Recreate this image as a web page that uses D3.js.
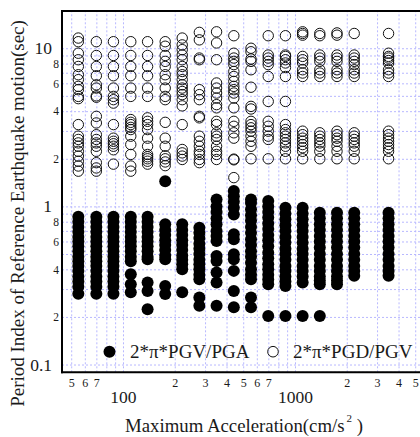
<!DOCTYPE html>
<html>
<head>
<meta charset="utf-8">
<script src="https://cdn.jsdelivr.net/npm/d3@7"></script>
<style>
  html, body { margin: 0; padding: 0; background: #fff; }
  svg { display: block; }
  .grid line { stroke: #b8b8ff; stroke-width: 1; stroke-dasharray: 2,2; }
  .grid path { display: none; }
  .lbl path, .lbl line { display: none; }
  text { font-family: "Liberation Serif", "Times New Roman", serif; fill: #1a1a1a; }
</style>
</head>
<body>
<svg id="chart" width="420" height="437"></svg>
<script>
// Maximum acceleration class of each column (cm/s^2)
const accel = [55, 70, 88, 111, 139, 176, 221, 278, 350, 441, 555, 699, 880, 1108, 1394, 1755, 2210, 3500];

// 2*pi*PGV/PGA (sec), one list per acceleration column
const pgvPga = [
  [0.86, 0.80, 0.74, 0.69, 0.64, 0.60, 0.56, 0.52, 0.48, 0.45, 0.42, 0.39, 0.36, 0.335, 0.31, 0.28],
  [0.86, 0.80, 0.74, 0.69, 0.64, 0.60, 0.56, 0.52, 0.48, 0.45, 0.42, 0.39, 0.36, 0.335, 0.31, 0.28],
  [0.86, 0.80, 0.74, 0.69, 0.64, 0.60, 0.56, 0.52, 0.48, 0.45, 0.42, 0.39, 0.36, 0.335, 0.31, 0.28],
  [0.86, 0.80, 0.74, 0.69, 0.64, 0.60, 0.56, 0.52, 0.48, 0.45, 0.372, 0.322, 0.286],
  [0.86, 0.80, 0.74, 0.69, 0.64, 0.60, 0.56, 0.52, 0.48, 0.463, 0.330, 0.292, 0.224],
  [1.44, 0.77, 0.71, 0.66, 0.61, 0.57, 0.53, 0.49, 0.463, 0.314, 0.279],
  [0.77, 0.71, 0.66, 0.61, 0.57, 0.53, 0.49, 0.46, 0.43, 0.40, 0.286],
  [0.734, 0.68, 0.63, 0.58, 0.54, 0.50, 0.46, 0.43, 0.40, 0.37, 0.346, 0.265, 0.235],
  [1.107, 1.0, 0.92, 0.84, 0.77, 0.70, 0.65, 0.604, 0.486, 0.452, 0.382, 0.330, 0.235],
  [1.25, 1.16, 1.07, 0.98, 0.89, 0.666, 0.619, 0.498, 0.463, 0.391, 0.292, 0.230],
  [1.107, 1.05, 0.96, 0.88, 0.81, 0.74, 0.68, 0.62, 0.57, 0.52, 0.48, 0.44, 0.40, 0.37, 0.346, 0.265, 0.230],
  [1.08, 1.0, 0.92, 0.85, 0.78, 0.72, 0.66, 0.61, 0.56, 0.51, 0.47, 0.43, 0.40, 0.37, 0.345, 0.322, 0.203],
  [0.98, 0.90, 0.83, 0.76, 0.70, 0.64, 0.59, 0.54, 0.50, 0.46, 0.42, 0.39, 0.36, 0.335, 0.314, 0.203],
  [0.98, 0.90, 0.83, 0.76, 0.70, 0.64, 0.59, 0.54, 0.50, 0.46, 0.42, 0.39, 0.36, 0.330, 0.203],
  [0.913, 0.84, 0.77, 0.71, 0.65, 0.60, 0.55, 0.50, 0.46, 0.42, 0.39, 0.36, 0.34, 0.322, 0.203],
  [0.913, 0.84, 0.77, 0.71, 0.65, 0.60, 0.55, 0.50, 0.46, 0.42, 0.39, 0.36, 0.34, 0.322],
  [0.913, 0.84, 0.77, 0.71, 0.65, 0.60, 0.55, 0.50, 0.46, 0.42, 0.39, 0.364],
  [0.913, 0.84, 0.77, 0.71, 0.65, 0.60, 0.55, 0.50, 0.46, 0.42, 0.39, 0.364]
];

// 2*pi*PGD/PGV (sec), one list per acceleration column
const pgdPgv = [
  [11.6, 11.0, 9.3, 8.46, 7.67, 6.8, 6.33, 5.74, 5.47, 4.96, 4.8, 3.29, 2.78, 2.65, 2.52, 2.40, 2.23, 2.08, 1.93, 1.80, 1.67],
  [11.0, 9.0, 7.67, 6.7, 5.87, 5.6, 5.0, 4.9, 3.71, 3.37, 2.84, 2.65, 2.52, 2.40, 2.23, 1.89, 1.75, 1.67],
  [11.0, 9.0, 7.67, 6.7, 5.6, 4.96, 4.73, 4.5, 3.29, 2.70, 2.58, 2.49, 2.40, 2.28, 1.85],
  [11.0, 9.0, 7.67, 6.7, 5.6, 4.96, 3.54, 3.40, 3.29, 3.16, 3.06, 2.78, 2.46, 2.13, 1.80, 1.67],
  [11.0, 9.0, 7.67, 6.7, 5.6, 4.96, 3.63, 3.45, 3.29, 3.06, 2.70, 2.40, 2.13, 2.06, 2.0, 1.93, 1.85],
  [11.0, 10.3, 9.0, 8.26, 7.67, 6.8, 6.33, 5.6, 4.96, 4.73, 3.40, 2.70, 2.40, 2.09, 2.0, 1.91, 1.81],
  [11.6, 10.5, 9.8, 9.06, 8.46, 7.67, 7.13, 6.8, 6.33, 5.87, 5.6, 5.33, 5.09, 4.73, 4.32, 3.29, 2.29, 2.18, 2.08, 1.98],
  [12.6, 11.3, 8.67, 8.46, 5.47, 5.09, 4.73, 3.71, 3.63, 2.78, 2.58, 2.40, 2.23, 2.13, 1.98, 1.89],
  [12.7, 10.8, 8.46, 6.03, 5.6, 5.21, 4.84, 4.4, 4.2, 3.45, 3.29, 2.92, 2.78, 2.65, 2.40, 2.23, 2.13, 1.98],
  [12.0, 9.3, 8.67, 8.26, 7.88, 7.13, 6.63, 6.17, 5.74, 5.47, 5.21, 4.84, 4.2, 3.45, 3.21, 2.92, 2.70, 1.99, 1.97, 1.52],
  [10.0, 9.5, 8.55, 8.26, 7.31, 5.67, 4.29, 4.13, 3.45, 3.29, 3.14, 2.99, 2.78, 2.58, 2.40, 2.0],
  [12.0, 9.06, 8.67, 8.26, 7.88, 6.63, 4.61, 3.45, 3.21, 2.99, 2.78, 2.65, 2.0],
  [12.0, 9.06, 8.88, 8.46, 8.07, 7.55, 6.63, 4.61, 3.29, 3.06, 2.92, 2.78, 2.65, 2.52, 2.40, 2.23, 2.0],
  [12.7, 12.4, 12.1, 8.88, 8.46, 8.07, 7.31, 6.97, 6.63, 2.99, 2.84, 2.70, 2.58, 2.46, 2.35, 2.23, 2.0],
  [12.4, 12.0, 9.06, 8.67, 8.26, 7.31, 6.97, 6.63, 2.92, 2.78, 2.65, 2.52, 2.40, 2.23, 2.0],
  [12.5, 12.1, 9.06, 8.67, 8.26, 7.31, 6.97, 6.63, 2.99, 2.84, 2.70, 2.58, 2.40, 2.23, 2.0],
  [12.4, 9.06, 8.67, 8.26, 7.88, 7.31, 6.97, 6.63, 2.92, 2.78, 2.65, 2.52, 2.40, 2.23, 2.0],
  [12.4, 9.3, 8.88, 8.67, 8.36, 8.07, 7.31, 6.97, 6.63, 2.99, 2.84, 2.70, 2.58, 2.46, 2.35, 2.23, 2.0]
];

// Axis labelling
const xMajorTicks = [100, 1000];
const xMinorTicks = [50, 60, 70, 200, 300, 400, 500, 600, 700, 2000, 3000, 4000, 5000];
const yMajorTicks = [0.1, 1, 10];
const yMinorTicks = [0.2, 0.4, 0.6, 0.8, 2, 4, 6, 8];
const seriesNames = ["2*\u03c0*PGV/PGA", "2*\u03c0*PGD/PGV"];

const svg = d3.select("#chart");
const plot = { left: 62, right: 430, top: 11, bottom: 372.3 };

const x = d3.scaleLog().domain([44.2, 6095]).range([plot.left, plot.right]);
const y = d3.scaleLog().domain([0.0893, 17.2]).range([plot.bottom, plot.top]);

// 1..9 multiples of each decade inside the domain, for the dotted grid
function decadeSteps(scale) {
  const [a, b] = scale.domain();
  const out = [];
  for (let p = Math.floor(Math.log10(a)); p <= Math.ceil(Math.log10(b)); p++) {
    for (let m = 1; m <= 9; m++) {
      const v = m * Math.pow(10, p);
      if (v > a && v < b) out.push(+v.toPrecision(3));
    }
  }
  return out;
}

const H = plot.bottom - plot.top;
const W = plot.right - plot.left;

svg.append("g").attr("class", "grid")
  .attr("transform", `translate(0,${plot.bottom})`)
  .call(d3.axisBottom(x).tickValues(decadeSteps(x)).tickSize(-H).tickFormat(""));

svg.append("g").attr("class", "grid")
  .attr("transform", `translate(${plot.left},0)`)
  .call(d3.axisLeft(y).tickValues(decadeSteps(y)).tickSize(-W).tickFormat(""));

// Points
const filledPts = pgvPga.flatMap((col, i) => col.map(v => ({ a: accel[i], v })));
const openPts = pgdPgv.flatMap((col, i) => col.map(v => ({ a: accel[i], v })));

svg.append("g").selectAll("circle").data(filledPts).join("circle")
  .attr("cx", d => x(d.a)).attr("cy", d => y(d.v)).attr("r", 6)
  .attr("fill", "#000");

svg.append("g").selectAll("circle").data(openPts).join("circle")
  .attr("cx", d => x(d.a)).attr("cy", d => y(d.v)).attr("r", 5.2)
  .attr("fill", "none").attr("stroke", "#111").attr("stroke-width", 1);

// Frame: left, bottom and top edges
const frame = svg.append("g").attr("stroke", "#000").attr("stroke-width", 2);
frame.append("line").attr("x1", plot.left).attr("x2", plot.left).attr("y1", plot.top - 1).attr("y2", plot.bottom + 1);
frame.append("line").attr("x1", plot.left - 1).attr("x2", plot.right).attr("y1", plot.bottom).attr("y2", plot.bottom);
frame.append("line").attr("x1", plot.left - 1).attr("x2", plot.right).attr("y1", plot.top).attr("y2", plot.top);

// Tick labels
const xMinorAxis = svg.append("g").attr("class", "lbl")
  .attr("transform", `translate(0,${plot.bottom})`)
  .call(d3.axisBottom(x).tickValues(xMinorTicks).tickSize(0).tickPadding(6)
    .tickFormat(d => String(d / Math.pow(10, Math.floor(Math.log10(d))))));
xMinorAxis.selectAll("text").style("font-size", "12px");

const xMajorAxis = svg.append("g").attr("class", "lbl")
  .attr("transform", `translate(0,${plot.bottom})`)
  .call(d3.axisBottom(x).tickValues(xMajorTicks).tickSize(0).tickPadding(18).tickFormat(d3.format("d")));
xMajorAxis.selectAll("text").style("font-size", "17.5px");

const yMinorAxis = svg.append("g").attr("class", "lbl")
  .attr("transform", `translate(${plot.left},0)`)
  .call(d3.axisLeft(y).tickValues(yMinorTicks).tickSize(0).tickPadding(3)
    .tickFormat(d => String(Math.round(d / Math.pow(10, Math.floor(Math.log10(d) + 1e-9))))));
yMinorAxis.selectAll("text").style("font-size", "11.5px");

const yMajorAxis = svg.append("g").attr("class", "lbl")
  .attr("transform", `translate(${plot.left},0)`)
  .call(d3.axisLeft(y).tickValues(yMajorTicks).tickSize(0).tickPadding(10).tickFormat(d => String(d)));
yMajorAxis.selectAll("text").style("font-size", "17.5px");

svg.selectAll(".lbl text").attr("fill", "#1a1a1a");

// Axis titles
const xTitle = svg.append("text").attr("x", 125).attr("y", 432).style("font-size", "18.8px");
xTitle.append("tspan").text("Maximum Acceleration(cm/s");
xTitle.append("tspan").attr("dy", -10).attr("dx", 2).style("font-size", "11px").text("2");
xTitle.append("tspan").attr("dy", 10).text(" )");

svg.append("text")
  .attr("transform", `translate(24,${(20 + 407) / 2}) rotate(-90)`)
  .attr("text-anchor", "middle")
  .style("font-size", "19px")
  .text("Period Index of Reference Earthquake motion(sec)");

// Legend
const legend = svg.append("g");
const legendRow = [
  { name: seriesNames[0], cx: 109.5, tx: 130, filled: true },
  { name: seriesNames[1], cx: 273, tx: 293, filled: false }
];
legendRow.forEach(item => {
  legend.append("circle").attr("cx", item.cx).attr("cy", 351.7).attr("r", item.filled ? 6 : 5.3)
    .attr("fill", item.filled ? "#000" : "none").attr("stroke", "#111").attr("stroke-width", item.filled ? 0 : 1);
  legend.append("text").attr("x", item.tx).attr("y", 358).style("font-size", "19px").text(item.name);
});
</script>
</body>
</html>
